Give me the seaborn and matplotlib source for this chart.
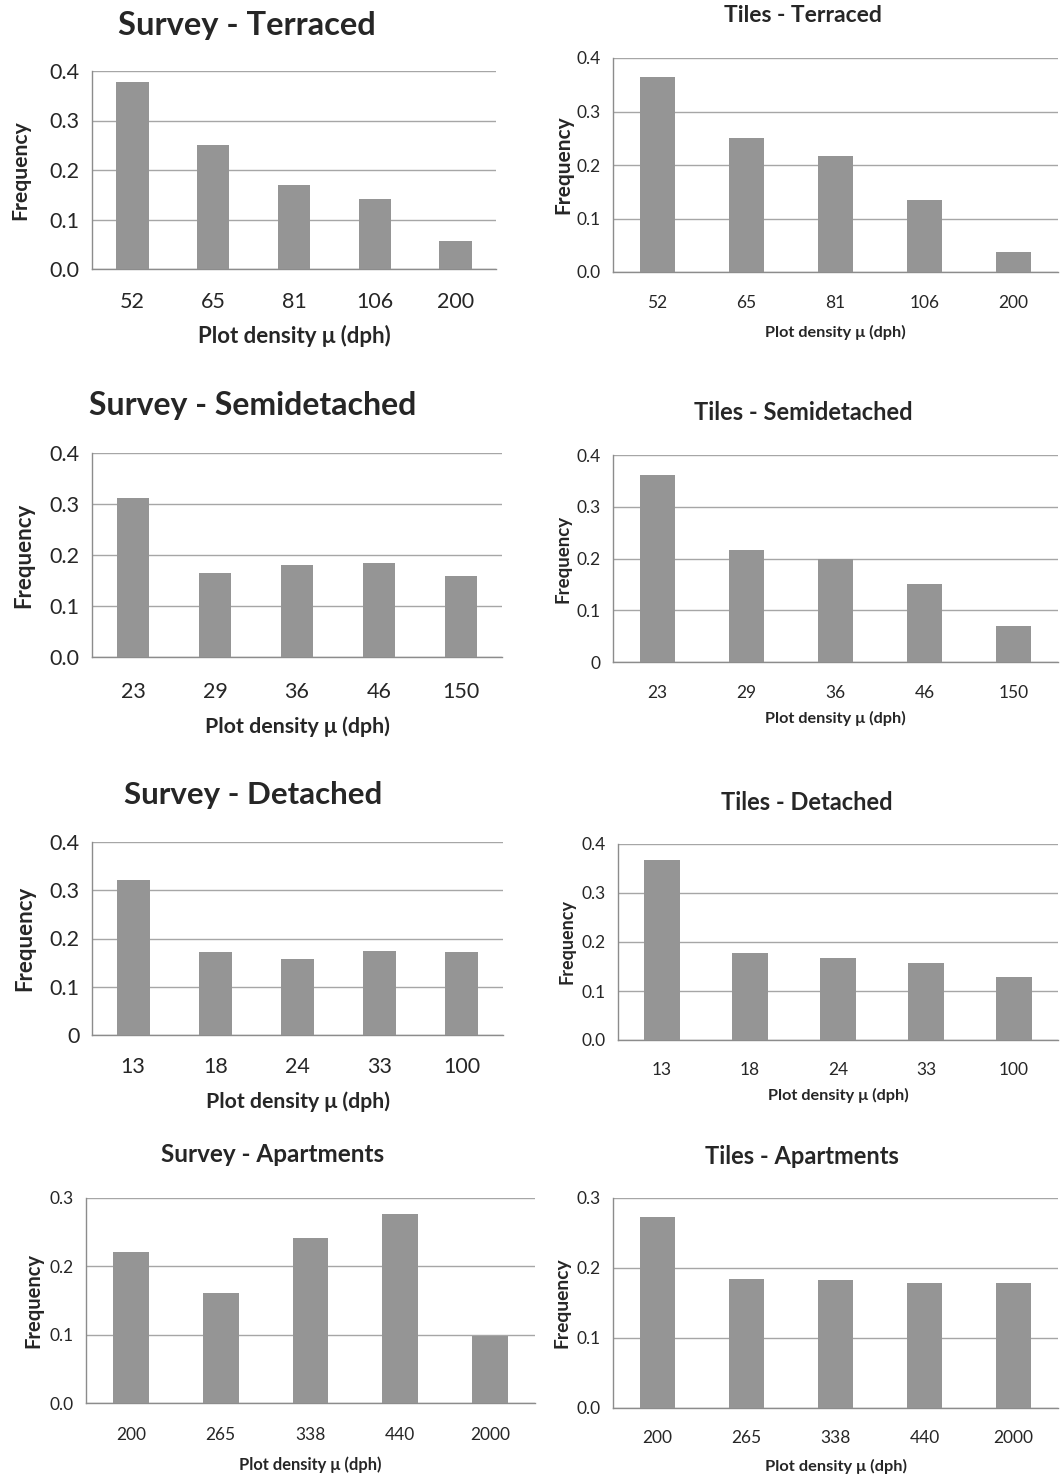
import matplotlib
matplotlib.use("Agg")
import matplotlib.pyplot as plt
import seaborn as sns
import pandas as pd

# categories (plot density, dph)
terraced_bins = ["52", "65", "81", "106", "200"]
semi_bins = ["23", "29", "36", "46", "150"]
detached_bins = ["13", "18", "24", "33", "100"]
apartment_bins = ["200", "265", "338", "440", "2000"]

# frequencies
survey_terraced = [0.378, 0.250, 0.169, 0.141, 0.057]
tiles_terraced = [0.365, 0.250, 0.216, 0.134, 0.037]
survey_semi = [0.311, 0.164, 0.180, 0.185, 0.159]
tiles_semi = [0.361, 0.216, 0.200, 0.151, 0.070]
survey_detached = [0.322, 0.173, 0.157, 0.174, 0.172]
tiles_detached = [0.368, 0.177, 0.168, 0.157, 0.129]
survey_apart = [0.221, 0.161, 0.242, 0.276, 0.098]
tiles_apart = [0.273, 0.185, 0.183, 0.178, 0.178]

titles = ["Survey - Terraced", "Tiles - Terraced",
          "Survey - Semidetached", "Tiles - Semidetached",
          "Survey - Detached", "Tiles - Detached",
          "Survey - Apartments", "Tiles - Apartments"]

ticks_04 = ["0.0", "0.1", "0.2", "0.3", "0.4"]
ticks_04_zero = ["0", "0.1", "0.2", "0.3", "0.4"]
ticks_03 = ["0.0", "0.1", "0.2", "0.3"]

panels = [
    (terraced_bins, survey_terraced, ticks_04),
    (terraced_bins, tiles_terraced, ticks_04),
    (semi_bins, survey_semi, ticks_04),
    (semi_bins, tiles_semi, ticks_04_zero),
    (detached_bins, survey_detached, ticks_04_zero),
    (detached_bins, tiles_detached, ticks_04),
    (apartment_bins, survey_apart, ticks_03),
    (apartment_bins, tiles_apart, ticks_03),
]

# layout in pixels: axes box (left, top, right, bottom), title centre,
# y of x-label centre, x of y-label centre; font sizes in points
W, H = 1060, 1476
layout = [
    dict(box=(92, 71, 496, 269), title=(247, 25), xl=336, yl=20,
         tsize=23.5, ksize=15.5, xsize=16, ysize=15.2, tpad=16.5),
    dict(box=(613, 58, 1058, 272), title=(803, 15), xl=332, yl=563,
         tsize=16.5, ksize=12.5, xsize=11.7, ysize=15, tpad=16.3),
    dict(box=(92, 453, 502, 657), title=(253, 405), xl=727, yl=24,
         tsize=23, ksize=15.5, xsize=15.4, ysize=16, tpad=18),
    dict(box=(613, 455, 1058, 662), title=(803, 413), xl=718, yl=563,
         tsize=17, ksize=12.5, xsize=11.7, ysize=13.5, tpad=16.3),
    dict(box=(92, 842, 503, 1035), title=(253, 795), xl=1102, yl=25,
         tsize=22.5, ksize=15.5, xsize=15.3, ysize=16, tpad=15.8),
    dict(box=(618, 844, 1058, 1040), title=(807, 803), xl=1095, yl=567,
         tsize=17, ksize=12.5, xsize=11.7, ysize=13, tpad=15.6),
    dict(box=(86, 1198, 535, 1403), title=(273, 1155), xl=1465, yl=33,
         tsize=17.5, ksize=12.5, xsize=11.9, ysize=14.5, tpad=17),
    dict(box=(613, 1198, 1058, 1408), title=(802, 1157), xl=1466, yl=562,
         tsize=17, ksize=12.5, xsize=11.8, ysize=13.9, tpad=15.6),
]

sns.set_theme(style="white")
plt.rcParams['font.family'] = ['Lato', 'DejaVu Sans']

bar_color = "#959595"
line_color = "#8c8c8c"
grid_color = "#a6a6a6"

fig = plt.figure(figsize=(W / 100, H / 100), dpi=100)

for (bins, vals, yticklabels), title, lay in zip(panels, titles, layout):
    l, t, r, b = lay["box"]
    ax = fig.add_axes([l / W, 1 - b / H, (r - l) / W, (b - t) / H])
    df = pd.DataFrame({"bin": bins, "freq": vals})
    sns.barplot(data=df, x="bin", y="freq", ax=ax, color=bar_color,
                width=0.4, saturation=1, edgecolor="none", zorder=3)
    ymax = float(yticklabels[-1])
    ax.set_xlim(-0.5, len(bins) - 0.5)
    ax.set_ylim(0, ymax)
    ax.set_yticks([float(v) for v in yticklabels])
    ax.set_yticklabels(yticklabels, fontsize=lay["ksize"])
    ax.set_xticks(range(len(bins)))
    ax.set_xticklabels(bins, fontsize=lay["ksize"])
    ax.set_xticks([i - 0.5 for i in range(len(bins) + 1)], minor=True)
    ax.tick_params(axis="x", which="major", length=0, pad=lay["tpad"])
    ax.tick_params(axis="x", which="minor", length=5, color=line_color, width=1, direction="out")
    ax.tick_params(axis="y", length=6, color=line_color, width=1, direction="out", pad=3)
    ax.yaxis.grid(True, color=grid_color, linewidth=1)
    ax.set_axisbelow(True)
    for side in ["top", "right"]:
        ax.spines[side].set_visible(False)
    for side in ["left", "bottom"]:
        ax.spines[side].set_color(line_color)
        ax.spines[side].set_linewidth(1)

    # axis labels placed at the measured pixel centres
    ax.set_xlabel("Plot density μ (dph)", fontsize=lay["xsize"], fontweight="bold", va="center")
    ax.xaxis.set_label_coords(0.5, (b - lay["xl"]) / (b - t))
    ax.set_ylabel("Frequency", fontsize=lay["ysize"], fontweight="bold", va="center")
    ax.yaxis.set_label_coords((lay["yl"] - l) / (r - l), 0.5)

    tx, ty = lay["title"]
    fig.text(tx / W, 1 - ty / H, title, ha="center", va="center",
             fontsize=lay["tsize"], fontweight="bold")

fig.savefig("out.png", dpi=100, facecolor="white")
